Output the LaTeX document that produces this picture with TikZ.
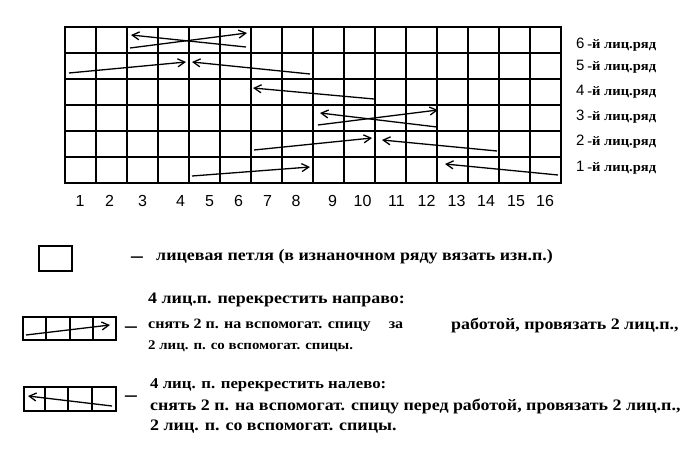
\documentclass[tikz,border=0pt]{standalone}
\usepackage{fontspec}
\setmainfont[FakeStretch=1.12]{Liberation Serif}
\newfontfamily\numfont{Liberation Sans}
\usepackage{tikz}
\usetikzlibrary{arrows.meta}

\begin{document}
\begin{tikzpicture}[x=1pt,y=-1pt]
      \tikzstyle{cell}=[line width=1.6pt, line cap=rect]
      \tikzstyle{cable}=[line width=1.3pt, -{Straight Barb[length=7pt,width=8pt,line width=1.3pt]}]
      \tikzstyle{col_num}=[inner sep=0pt, font=\numfont\fontsize{16}{16}\selectfont]
      \tikzstyle{row_text}=[anchor=west, inner sep=0pt]
      \tikzstyle{legend_text}=[anchor=west, inner sep=0pt, font=\bfseries\fontsize{16}{16}\selectfont]
      \tikzstyle{legend_dash}=[inner sep=0pt, font=\bfseries\fontsize{21}{21}\selectfont]

      \useasboundingbox (0,0) rectangle (699,454);

      % chart grid, 16 stitches x 6 rows
      \foreach \i in {0,...,16}
        \draw[cell] (65+31*\i,27) -- (65+31*\i,183);
      \foreach \j in {0,...,6}
        \draw[cell] (65,27+26*\j) -- (561,27+26*\j);

      % cables
      \draw[cable] (246,47) -- (131,35);
      \draw[cable] (130,48) -- (247,33);
      \draw[cable] (69,73) -- (186,62);
      \draw[cable] (310,74) -- (192,62);
      \draw[cable] (374,99) -- (253,88);
      \draw[cable] (318,125) -- (438,110);
      \draw[cable] (437,127) -- (320,113);
      \draw[cable] (254,150) -- (372,138);
      \draw[cable] (497,151) -- (382,140);
      \draw[cable] (192,176) -- (310,167);
      \draw[cable] (558,175) -- (445,164);

      % stitch numbers
      \foreach \x [count=\i] in {80,109.5,142.5,180.5,209.5,238.5,267.5,296,332.5,362.5,396.5,426.5,456.5,486,516,545}
        \node[col_num] (num\i) at (\x,201) {\i};

      % row labels
      \foreach \y [count=\r] in {168,142,117,92,67,45}
        \node[row_text] (row\r) at (576,\y) {{\numfont\fontsize{15}{15}\selectfont \r} {\bfseries\fontsize{13}{13}\selectfont -й лиц.ряд}};

      % legend: knit stitch
      \draw[line width=1.5pt] (39,246) rectangle (72,271);
      \node[legend_dash] (dash1) at (137,260) {--};
      \node[legend_text] (knit_text) at (156,257) {лицевая петля (в изнаночном ряду вязать изн.п.)};

      % legend: cross to the right
      \draw[line width=1.5pt] (23,317) rectangle (116,340);
      \foreach \x in {46,70,93}
        \draw[line width=1.5pt] (\x,317) -- (\x,340);
      \draw[cable] (26,335) -- (110,325);
      \node[legend_dash] (dash2) at (131,330) {--};
      \node[legend_text] (right_a) at (148,300) {4 лиц.п. перекрестить направо:};
      \node[legend_text, font=\bfseries\fontsize{14.3}{14.3}\selectfont] (right_b) at (148,325) {снять 2 п. на вспомогат. спицу};
      \node[legend_text, anchor=center, font=\bfseries\fontsize{14.3}{14.3}\selectfont] (right_za) at (396,325) {за};
      \node[legend_text] (right_c) at (451,325) {работой, провязать 2 лиц.п.,};
      \node[legend_text, font=\bfseries\fontsize{13.3}{13.3}\selectfont] (right_d) at (148,346) {2 лиц. п. со вспомогат. спицы.};

      % legend: cross to the left
      \draw[line width=1.5pt] (24,387) rectangle (116,411);
      \foreach \x in {45,68,92}
        \draw[line width=1.5pt] (\x,387) -- (\x,411);
      \draw[cable] (112,406) -- (28,396);
      \node[legend_dash] (dash3) at (131,399) {--};
      \node[legend_text, font=\bfseries\fontsize{15}{15}\selectfont] (left_a) at (150,385) {4 лиц. п. перекрестить налево:};
      \node[legend_text] (left_b) at (150,406) {снять 2 п. на вспомогат. спицу перед работой, провязать 2 лиц.п.,};
      \node[legend_text] (left_c) at (150,427) {2 лиц. п. со вспомогат. спицы.};
\end{tikzpicture}
\end{document}
